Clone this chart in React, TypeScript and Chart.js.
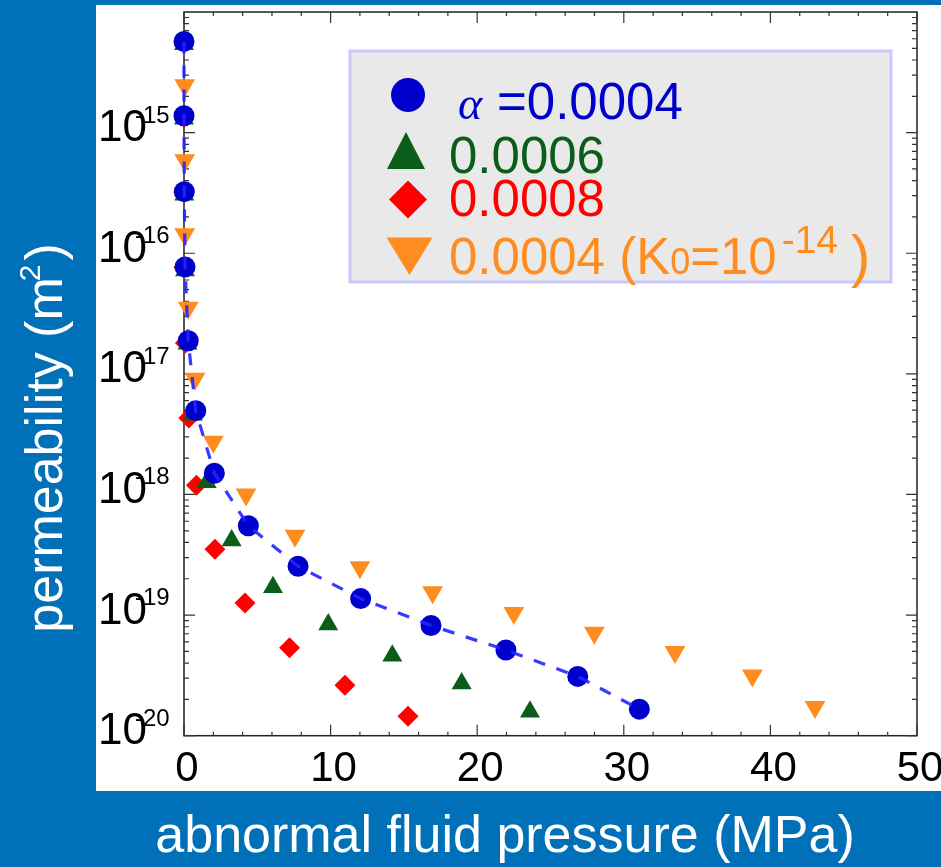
import React, { useEffect, useRef } from "react";
import { Chart, registerables } from "chart.js";

Chart.register(...registerables);

const W = 941;
const H = 867;

// alpha = 0.0004
const BLUE_P = [0, 0, 0.02, 0.07, 0.29, 0.8, 2.07, 4.39, 7.78, 12.05, 16.85, 21.96, 26.86, 31.06];
const BLUE_K = [5.7e-15, 1.38e-15, 3.24e-16, 7.7e-17, 1.88e-17, 4.95e-18, 1.5e-18, 5.5e-19, 2.54e-19, 1.37e-19, 8.2e-20, 5.13e-20, 3.1e-20, 1.66e-20];
// alpha = 0.0006
const GREEN_P = [0, 0, 0.02, 0.07, 0.24, 0.61, 1.55, 3.25, 6.07, 9.84, 14.21, 18.94, 23.6];
const GREEN_K = [5.4e-15, 1.3e-15, 3.05e-16, 7.2e-17, 1.78e-17, 4.57e-18, 1.26e-18, 4.16e-19, 1.7e-19, 8.34e-20, 4.61e-20, 2.71e-20, 1.58e-20];
// alpha = 0.0008
const RED_P = [0, 0, 0, 0, 0.1, 0.33, 0.85, 2.11, 4.16, 7.2, 10.98, 15.28];
const RED_K = [5.6e-15, 1.35e-15, 3.2e-16, 7.6e-17, 1.8e-17, 4.3e-18, 1.19e-18, 3.51e-19, 1.26e-19, 5.36e-20, 2.62e-20, 1.45e-20];
// alpha = 0.0004, K0 = 1e-14
const ORANGE_P = [0.05, 0.05, 0.05, 0.29, 0.75, 2.0, 4.23, 7.57, 12.0, 16.96, 22.5, 27.99, 33.49, 38.77, 43.04];
const ORANGE_K = [2.47e-15, 5.9e-16, 1.44e-16, 3.53e-17, 9.1e-18, 2.73e-18, 1.0e-18, 4.55e-19, 2.49e-19, 1.55e-19, 1.04e-19, 7.15e-20, 4.94e-20, 3.16e-20, 1.73e-20];

const X_TICKS = [0, 10, 20, 30, 40, 50];
const Y_EXPONENTS = [-20, -19, -18, -17, -16, -15];
const LEGEND_VALUES = ["=0.0004", "0.0006", "0.0008", "0.0004 (K"];
const X_TITLE = "abnormal fluid pressure (MPa)";
const Y_TITLE = "permeability (m";

const BG = "#0070b8";
const C_BLUE = "#0000cc";
const C_LINE = "rgba(35,35,255,0.9)";
const C_GREEN = "#0b5e1a";
const C_RED = "#ff0000";
const C_ORANGE = "#ff8c1e";
const SANS = '"Liberation Sans", Arial, sans-serif';

function pts(xs: number[], ys: number[]) {
  return xs.map((x, i) => ({ x, y: ys[i] }));
}

const decor = {
  id: "decor",
  beforeDraw(chart: any) {
    const ctx = chart.ctx;
    ctx.save();
    ctx.fillStyle = BG;
    ctx.fillRect(0, 0, W, H);
    ctx.fillStyle = "#ffffff";
    ctx.fillRect(96, 5, W - 96, 791 - 5);

    // axis titles
    ctx.fillStyle = "#ffffff";
    ctx.font = "52px " + SANS;
    ctx.textAlign = "center";
    ctx.textBaseline = "alphabetic";
    ctx.fillText(X_TITLE, 505, 852);

    ctx.save();
    ctx.translate(62, 438);
    ctx.rotate(-Math.PI / 2);
    ctx.textAlign = "left";
    ctx.font = "52px " + SANS;
    const w1 = ctx.measureText(Y_TITLE).width;
    ctx.font = "30px " + SANS;
    const w2 = ctx.measureText("2").width;
    ctx.font = "52px " + SANS;
    const w3 = ctx.measureText(")").width;
    let sx = -(w1 + w2 + w3) / 2;
    ctx.fillText(Y_TITLE, sx, 0);
    sx += w1;
    ctx.font = "30px " + SANS;
    ctx.fillText("2", sx - 4, -22);
    sx += w2;
    ctx.font = "52px " + SANS;
    ctx.fillText(")", sx, 0);
    ctx.restore();
    ctx.restore();
  },
  beforeDatasetsDraw(chart: any) {
    const ctx = chart.ctx;
    const a = chart.chartArea;
    const x = chart.scales.x;
    const y = chart.scales.y;
    ctx.save();
    ctx.strokeStyle = "#222";
    ctx.lineWidth = 1.5;
    ctx.strokeRect(a.left, a.top, a.right - a.left, a.bottom - a.top);
    ctx.lineWidth = 1.2;
    ctx.strokeStyle = "#333";
    ctx.beginPath();
    for (let v = 0; v <= 50; v += 2) {
      const px = x.getPixelForValue(v);
      const len = v % 10 === 0 ? 11 : 4;
      ctx.moveTo(px, a.bottom);
      ctx.lineTo(px, a.bottom - len);
      ctx.moveTo(px, a.top);
      ctx.lineTo(px, a.top + len);
    }
    for (let e = -20; e < -14; e++) {
      for (let m = 1; m < 10; m++) {
        const py = y.getPixelForValue(m * Math.pow(10, e));
        const len = m === 1 ? 11 : 5;
        ctx.moveTo(a.left, py);
        ctx.lineTo(a.left + len, py);
        ctx.moveTo(a.right, py);
        ctx.lineTo(a.right - len, py);
      }
    }
    ctx.stroke();

    // tick labels
    ctx.fillStyle = "#000";
    ctx.textBaseline = "alphabetic";
    ctx.font = "42px " + SANS;
    ctx.textAlign = "center";
    for (const v of X_TICKS) {
      ctx.fillText(String(v), x.getPixelForValue(v) + 3, 781);
    }
    for (const e of Y_EXPONENTS) {
      const py = y.getPixelForValue(Math.pow(10, e));
      ctx.font = "44px " + SANS;
      ctx.textAlign = "right";
      ctx.fillText("10", a.left - 37, py + 8.5);
      ctx.font = "24px " + SANS;
      ctx.textAlign = "left";
      ctx.fillText("-" + String(-e), a.left - 49, py - 10);
    }
    ctx.restore();
  },
  afterDraw(chart: any) {
    const ctx = chart.ctx;
    ctx.save();
    // legend box
    ctx.fillStyle = "#e9e9e9";
    ctx.fillRect(350, 51, 541, 231);
    ctx.strokeStyle = "#c8c8ff";
    ctx.lineWidth = 3;
    ctx.strokeRect(350, 51, 541, 231);

    // markers
    ctx.fillStyle = C_BLUE;
    ctx.beginPath();
    ctx.arc(408, 95, 17, 0, Math.PI * 2);
    ctx.fill();

    ctx.fillStyle = C_GREEN;
    ctx.beginPath();
    ctx.moveTo(406, 132);
    ctx.lineTo(425, 169);
    ctx.lineTo(387, 169);
    ctx.closePath();
    ctx.fill();

    ctx.fillStyle = C_RED;
    ctx.beginPath();
    ctx.moveTo(408, 180.5);
    ctx.lineTo(427, 199.5);
    ctx.lineTo(408, 218.5);
    ctx.lineTo(389, 199.5);
    ctx.closePath();
    ctx.fill();

    ctx.fillStyle = C_ORANGE;
    ctx.beginPath();
    ctx.moveTo(386.5, 237.5);
    ctx.lineTo(432.5, 237.5);
    ctx.lineTo(409.5, 275);
    ctx.closePath();
    ctx.fill();

    // texts
    ctx.textAlign = "left";
    ctx.textBaseline = "alphabetic";
    ctx.fillStyle = C_BLUE;
    ctx.font = 'italic 46px "Liberation Serif", "Times New Roman", serif';
    ctx.fillText("\u03b1", 458, 118.5);
    ctx.font = "51px " + SANS;
    ctx.fillText(LEGEND_VALUES[0], 497, 119);

    ctx.fillStyle = C_GREEN;
    ctx.fillText(LEGEND_VALUES[1], 449, 172.6);
    ctx.fillStyle = C_RED;
    ctx.fillText(LEGEND_VALUES[2], 449, 216.3);

    ctx.fillStyle = C_ORANGE;
    let tx = 449;
    const base = 273.5;
    ctx.font = "51px " + SANS;
    ctx.fillText(LEGEND_VALUES[3], tx, base);
    tx += ctx.measureText(LEGEND_VALUES[3]).width;
    ctx.font = "36px " + SANS;
    ctx.fillText("0", tx, base);
    tx += ctx.measureText("0").width;
    ctx.font = "51px " + SANS;
    ctx.fillText("=10", tx, base);
    tx += ctx.measureText("=10").width;
    ctx.font = "39px " + SANS;
    ctx.fillText("-14", tx + 5, 253);
    ctx.font = "58px " + SANS;
    ctx.fillText(")", 851, 276);
    ctx.restore();
  },
};

export default function App() {
  const ref = useRef<HTMLCanvasElement | null>(null);
  useEffect(() => {
    if (!ref.current) return;
    const chart = new Chart(ref.current, {
      type: "scatter",
      data: {
        datasets: [
          {
            label: "curve",
            data: pts(BLUE_P, BLUE_K),
            showLine: true,
            borderColor: C_LINE,
            borderWidth: 3.2,
            borderDash: [12, 12],
            pointRadius: 0,
            fill: false,
            tension: 0,
            order: 0,
            clip: false,
          } as any,
          {
            label: "0.0004",
            data: pts(BLUE_P, BLUE_K),
            pointStyle: "circle",
            pointRadius: 10.5,
            backgroundColor: C_BLUE,
            borderWidth: 0,
            order: 1,
            clip: false,
          } as any,
          {
            label: "0.0006",
            data: pts(GREEN_P, GREEN_K),
            pointStyle: "triangle",
            pointRadius: 11.5,
            backgroundColor: C_GREEN,
            borderWidth: 0,
            order: 2,
            clip: false,
          } as any,
          {
            label: "0.0008",
            data: pts(RED_P, RED_K),
            pointStyle: "rectRot",
            pointRadius: 10.5,
            backgroundColor: C_RED,
            borderWidth: 0,
            order: 3,
            clip: false,
          } as any,
          {
            label: "0.0004 (K0=1e-14)",
            data: pts(ORANGE_P, ORANGE_K),
            pointStyle: "triangle",
            pointRotation: 180,
            pointRadius: 12,
            backgroundColor: C_ORANGE,
            borderWidth: 0,
            order: 4,
            clip: false,
          } as any,
        ],
      },
      options: {
        responsive: false,
        animation: false,
        devicePixelRatio: 1,
        layout: { padding: { left: 184, top: 5.5, right: W - 917, bottom: H - 735.7 } },
        plugins: { legend: { display: false }, tooltip: { enabled: false } },
        scales: {
          x: { type: "linear", min: 0, max: 50, display: false },
          y: { type: "logarithmic", min: 1e-20, max: 1e-14, display: false },
        },
      } as any,
      plugins: [decor],
    });
    return () => chart.destroy();
  }, []);
  return (
    <div style={{ position: "absolute", left: 0, top: 0, width: W, height: H }}>
      <canvas ref={ref} width={W} height={H} style={{ display: "block" }} />
    </div>
  );
}
